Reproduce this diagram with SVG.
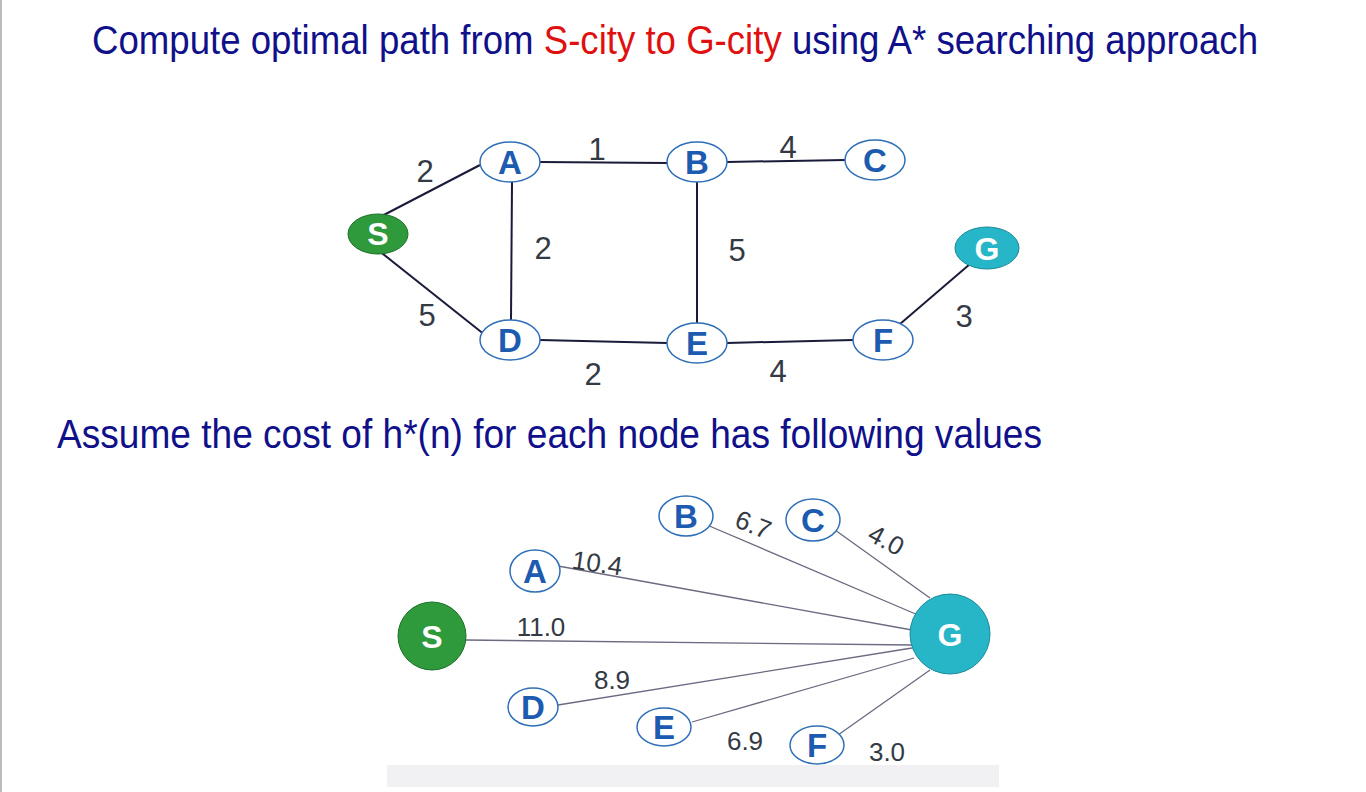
<svg xmlns="http://www.w3.org/2000/svg" width="1366" height="792" viewBox="0 0 1366 792">
<style>
.t{font-family:"Liberation Sans",Arial,sans-serif;fill:#10108a;font-size:40px}
.n{fill:#fff;stroke:#2f6fb8;stroke-width:1.5}
.nl{font-family:"Liberation Sans",Arial,sans-serif;font-weight:bold;font-size:33px;fill:#1d5bb0;text-anchor:middle}
.wl{font-family:"Liberation Sans",Arial,sans-serif;font-weight:bold;font-size:32px;fill:#fff;text-anchor:middle}
.el{font-family:"Liberation Sans",Arial,sans-serif;font-size:31px;fill:#333a44;text-anchor:middle}
.hl{font-family:"Liberation Sans",Arial,sans-serif;font-size:26px;fill:#333a44;text-anchor:middle}
.e{stroke:#1a1a3a;stroke-width:2}
.h{stroke:#6a6a80;stroke-width:1.3}
</style>
<rect width="1366" height="792" fill="#fff"/>
<line x1="1" y1="0" x2="1" y2="792" stroke="#bbb" stroke-width="2"/>
<text class="t" x="92" y="54" textLength="1166" lengthAdjust="spacingAndGlyphs">Compute optimal path from <tspan fill="#e01010">S-city to G-city</tspan> using A* searching approach</text>
<text class="t" x="57" y="448" textLength="985" lengthAdjust="spacingAndGlyphs">Assume the cost of h*(n) for each node has following values</text>
<g id="connectors">
<line class="e" x1="378" y1="218" x2="480" y2="165"/>
<line class="e" x1="378" y1="250" x2="485" y2="335"/>
<line class="e" x1="540" y1="162" x2="667" y2="163"/>
<line class="e" x1="727" y1="162" x2="845" y2="160"/>
<line class="e" x1="512" y1="182" x2="511" y2="320"/>
<line class="e" x1="697" y1="182" x2="697" y2="323"/>
<line class="e" x1="540" y1="340" x2="667" y2="343"/>
<line class="e" x1="727" y1="343" x2="853" y2="340"/>
<line class="e" x1="900" y1="324" x2="970" y2="264"/>
<line class="h" x1="465" y1="640" x2="912" y2="645"/>
<line class="h" x1="558" y1="566" x2="912" y2="630"/>
<line class="h" x1="707" y1="525" x2="918" y2="615"/>
<line class="h" x1="835" y1="530" x2="930" y2="598"/>
<line class="h" x1="558" y1="705" x2="912" y2="648"/>
<line class="h" x1="692" y1="722" x2="914" y2="658"/>
<line class="h" x1="838" y1="735" x2="930" y2="670"/>
</g>
<g id="edge-labels">
<text class="el" x="425" y="182">2</text>
<text class="el" x="597" y="160">1</text>
<text class="el" x="788" y="158">4</text>
<text class="el" x="543" y="259">2</text>
<text class="el" x="737" y="261">5</text>
<text class="el" x="427" y="326">5</text>
<text class="el" x="964" y="327">3</text>
<text class="el" x="593" y="385">2</text>
<text class="el" x="778" y="382">4</text>
<text class="hl" transform="translate(596,572) rotate(8)">10.4</text>
<text class="hl" transform="translate(750,533) rotate(22)">6.7</text>
<text class="hl" transform="translate(882,548) rotate(28)">4.0</text>
<text class="hl" x="541" y="636">11.0</text>
<text class="hl" x="612" y="689">8.9</text>
<text class="hl" x="745" y="750">6.9</text>
<text class="hl" x="887" y="761">3.0</text>
</g>
<g id="S1"><ellipse cx="378" cy="234" rx="30" ry="20" fill="#2e9a3c" stroke="#1f6e2a"/><text class="wl" x="378" y="245">S</text></g>
<g id="A1"><ellipse class="n" cx="510" cy="162" rx="30" ry="20"/><text class="nl" x="510" y="174">A</text></g>
<g id="B1"><ellipse class="n" cx="697" cy="162" rx="30" ry="20"/><text class="nl" x="697" y="174">B</text></g>
<g id="C1"><ellipse class="n" cx="875" cy="160" rx="30" ry="20"/><text class="nl" x="875" y="172">C</text></g>
<g id="D1"><ellipse class="n" cx="510" cy="340" rx="30" ry="20"/><text class="nl" x="510" y="352">D</text></g>
<g id="E1"><ellipse class="n" cx="697" cy="343" rx="30" ry="20"/><text class="nl" x="697" y="355">E</text></g>
<g id="F1"><ellipse class="n" cx="883" cy="340" rx="30" ry="20"/><text class="nl" x="883" y="352">F</text></g>
<g id="G1"><ellipse cx="987" cy="248" rx="32" ry="21" fill="#27b5c8" stroke="#1a8a9a"/><text class="wl" x="987" y="260">G</text></g>
<g id="S2"><circle cx="432" cy="636" r="34" fill="#2e9a3c" stroke="#1f6e2a"/><text class="wl" x="432" y="648">S</text></g>
<g id="G2"><circle cx="950" cy="634" r="40" fill="#27b5c8" stroke="#1a8a9a"/><text class="wl" x="950" y="646">G</text></g>
<g id="A2"><ellipse class="n" cx="535" cy="571" rx="25" ry="21"/><text class="nl" x="535" y="583">A</text></g>
<g id="B2"><ellipse class="n" cx="686" cy="516" rx="27" ry="20"/><text class="nl" x="686" y="528">B</text></g>
<g id="C2"><ellipse class="n" cx="813" cy="520" rx="27" ry="21"/><text class="nl" x="813" y="532">C</text></g>
<g id="D2"><ellipse class="n" cx="533" cy="707" rx="25" ry="19"/><text class="nl" x="533" y="719">D</text></g>
<g id="E2"><ellipse class="n" cx="664" cy="727" rx="27" ry="19"/><text class="nl" x="664" y="739">E</text></g>
<g id="F2"><ellipse class="n" cx="817" cy="745" rx="27" ry="19"/><text class="nl" x="817" y="757">F</text></g>
<rect x="387" y="765" width="612" height="22" fill="#f1f1f3"/>
</svg>
